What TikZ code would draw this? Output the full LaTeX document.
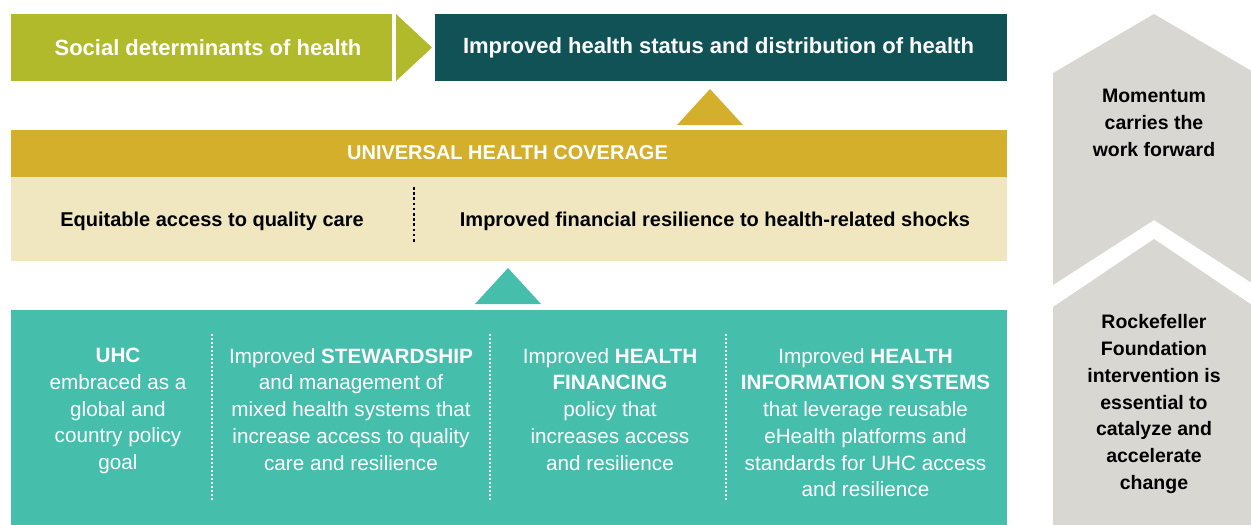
\documentclass[tikz,border=0pt]{standalone}
\usepackage{fontspec}
\setmainfont{Liberation Sans}
\definecolor{cOlive}{RGB}{177,186,42}
\definecolor{cDark}{RGB}{17,82,87}
\definecolor{cGold}{RGB}{212,175,44}
\definecolor{cCream}{RGB}{240,230,192}
\definecolor{cTeal}{RGB}{69,190,172}
\definecolor{cGray}{RGB}{217,215,210}
\tikzset{
  band/.style={anchor=north west, inner sep=0pt, outer sep=0pt},
  head/.style={text=white, font=\bfseries\fontsize{22}{26}\selectfont},
  coltext/.style={anchor=north, inner sep=0pt, align=center, text=white, font=\fontsize{20.7}{26.7}\selectfont},
  sidetext/.style={inner sep=0pt, align=center, text=black, font=\bfseries\fontsize{19.5}{26.8}\selectfont},
  creamtext/.style={font=\bfseries\fontsize{20}{24}\selectfont},
  wdots/.style={white, line width=2pt, dash pattern=on 2pt off 2pt},
  bdots/.style={black, line width=2.6pt, dash pattern=on 2.6pt off 2.6pt},
}
\begin{document}
\begin{tikzpicture}[x=1pt,y=-1pt]
\useasboundingbox (0,0) rectangle (1251,525);
% right gray chevrons
\fill[cGray] (1053,73) -- (1154,14) -- (1255,73) -- (1255,285) -- (1154,220) -- (1053,285) -- cycle;
\fill[cGray] (1053,307) -- (1154,239) -- (1255,307) -- (1255,525) -- (1053,525) -- cycle;
\node[sidetext] (mom) at (1154,123) {Momentum\\carries the\\work forward};
\node[sidetext] (rf) at (1154,404) {Rockefeller\\Foundation\\intervention is\\essential to\\catalyze and\\accelerate\\change};
% top row
\node[band, fill=cOlive, minimum width=381pt, minimum height=67pt] (sdh) at (11,14) {};
\node[head] (sdht) at (208,47.5) {Social determinants of health};
\fill[cOlive] (396,14) -- (432,47.5) -- (396,81) -- cycle;
\node[band, fill=cDark, minimum width=572pt, minimum height=67pt] (ihs) at (435,14) {};
\node[head] (ihst) at (718.5,47.5) {Improved health status and distribution of health};
% gold triangle
\fill[cGold] (677,125) -- (710,89) -- (743,125) -- cycle;
% UHC band
\node[band, fill=cGold, minimum width=996pt, minimum height=47pt] (uhc) at (11,130) {};
\node[text=white, font=\bfseries\fontsize{20}{24}\selectfont] (uhct) at (507.5,153) {UNIVERSAL HEALTH COVERAGE};
\node[band, fill=cCream, minimum width=996pt, minimum height=84pt] (cream) at (11,177) {};
\node[creamtext] (eq) at (212,221) {Equitable access to quality care};
\node[creamtext] (fin) at (715,221) {Improved financial resilience to health-related shocks};
\coordinate (d1a) at (414,187); \coordinate (d1b) at (414,243);
\draw[bdots] (d1a) -- (d1b);
% teal triangle
\fill[cTeal] (475,304) -- (508,268) -- (541,304) -- cycle;
% teal band
\node[band, fill=cTeal, minimum width=996pt, minimum height=215pt] (teal) at (11,310) {};
\coordinate (s1a) at (212,334); \coordinate (s1b) at (212,501);
\coordinate (s2a) at (490,334); \coordinate (s2b) at (490,501);
\coordinate (s3a) at (726,334); \coordinate (s3b) at (726,501);
\draw[wdots] (s1a) -- (s1b);
\draw[wdots] (s2a) -- (s2b);
\draw[wdots] (s3a) -- (s3b);
\node[coltext] (c1) at (118,348) {\textbf{UHC}\\embraced as a\\global and\\country policy\\goal};
\node[coltext] (c2) at (351,348) {Improved \textbf{STEWARDSHIP}\\and management of\\mixed health systems that\\increase access to quality\\care and resilience};
\node[coltext] (c3) at (610,348) {Improved \textbf{HEALTH}\\\textbf{FINANCING}\\policy that\\increases access\\and resilience};
\node[coltext] (c4) at (865.5,348) {Improved \textbf{HEALTH}\\\textbf{INFORMATION SYSTEMS}\\that leverage reusable\\eHealth platforms and\\standards for UHC access\\and resilience};
\end{tikzpicture}
\end{document}
